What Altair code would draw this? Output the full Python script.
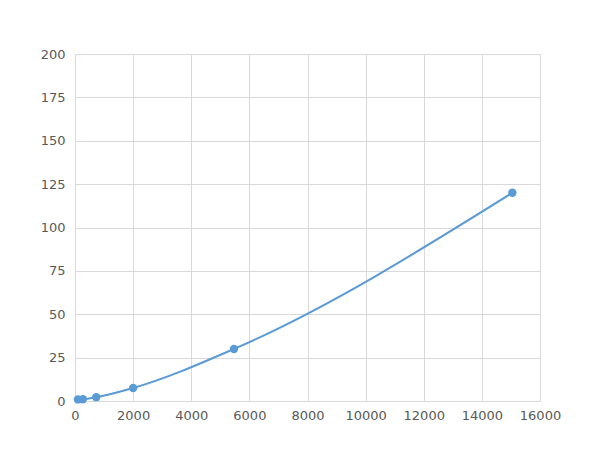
import altair as alt
import pandas as pd

conc = [100, 270, 730, 2000, 5470, 15050]
od = [0.9, 1.0, 2.2, 7.5, 30.0, 120.0]

df = pd.DataFrame({"x": conc, "y": od})

color = "#5B9BD5"
xs = alt.Scale(domain=[0, 16000], nice=False)
ys = alt.Scale(domain=[0, 200], nice=False)

xax = alt.Axis(values=list(range(0, 16001, 2000)), format="d", labelOverlap=False, labelBound=False,
               title=None, grid=True, gridColor="#d9d9d9",
               domainColor="#d9d9d9", ticks=False, labelColor="#595959", labelFontSize=13,
               labelFont="DejaVu Sans", labelPadding=8, labelFlush=False)
yax = alt.Axis(values=list(range(0, 201, 25)), format="d", labelOverlap=False, labelBound=False,
               title=None, grid=True, gridColor="#d9d9d9",
               domainColor="#d9d9d9", ticks=False, labelColor="#595959", labelFontSize=13,
               labelFont="DejaVu Sans", labelPadding=10, labelFlush=False)

line = alt.Chart(df).mark_line(color=color, strokeWidth=2, interpolate="monotone").encode(
    x=alt.X("x:Q", scale=xs, axis=xax),
    y=alt.Y("y:Q", scale=ys, axis=yax),
)
pts = alt.Chart(df).mark_circle(color=color, size=70, opacity=1).encode(
    x=alt.X("x:Q", scale=xs),
    y=alt.Y("y:Q", scale=ys),
)

chart = (line + pts).properties(
    width=465, height=347,
    autosize=alt.AutoSizeParams(type="none"),
    padding={"left": 67, "top": 46, "right": 52, "bottom": 41},
).configure_view(stroke="#d9d9d9")

chart.save("out.html", embed_options={"renderer": "svg", "actions": False})
